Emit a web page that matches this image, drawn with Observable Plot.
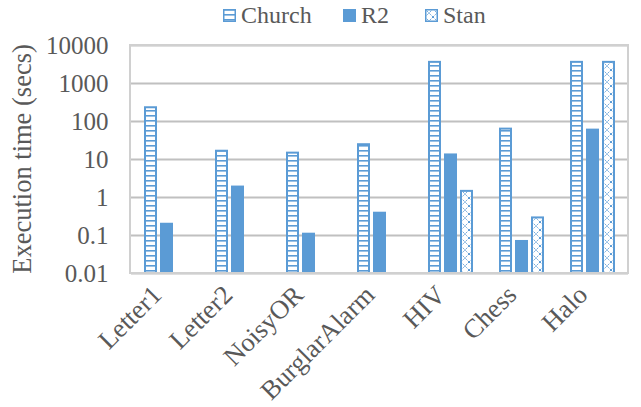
<!DOCTYPE html>
<html>
<head>
<meta charset="utf-8">
<script src="https://cdn.jsdelivr.net/npm/d3@7"></script>
<script src="https://cdn.jsdelivr.net/npm/@observablehq/plot@0.6"></script>
<style>
  html, body { margin: 0; padding: 0; background: white; }
  #wrap { position: relative; width: 641px; height: 407px; overflow: hidden; font-family: "Liberation Serif", serif; color: #595959; }
  #legend { position: relative; height: 30px; width: 641px; }
  .li { position: absolute; top: 0; font-size: 24px; line-height: 30px; }
  .sw { position: absolute; top: 9px; width: 13px; height: 13px; }
</style>
</head>
<body>
<svg width="0" height="0" style="position:absolute">
  <defs>
    <pattern id="pChurch" patternUnits="userSpaceOnUse" width="6" height="5">
      <rect width="6" height="5" fill="white"></rect>
      <rect y="0" width="6" height="1.6" fill="#5b9bd5"></rect>
    </pattern>
    <pattern id="pStan" patternUnits="userSpaceOnUse" width="8" height="8">
      <rect width="8" height="8" fill="white"></rect>
      <path d="M0,0L8,8M8,0L0,8" stroke="#5b9bd5" stroke-width="1" stroke-dasharray="1.5,1"></path>
    </pattern>
  </defs>
</svg>
<div id="wrap">
  <div id="legend"></div>
  <div id="chart"></div>
</div>
<script>
const categories = ["Letter1", "Letter2", "NoisyOR", "BurglarAlarm", "HIV", "Chess", "Halo"];
const series = ["Church", "R2", "Stan"];
const churchValues = [230, 16.5, 14.7, 24.5, 3600, 63, 3600];
const r2Values = [0.21, 2.0, 0.115, 0.41, 14, 0.074, 63];
const stanValues = [null, null, null, null, 1.45, 0.29, 3600];
const yTicks = [0.01, 0.1, 1, 10, 100, 1000, 10000];
const yTitle = "Execution time (secs)";

const blue = "#5b9bd5";
const seriesFill = {Church: "url(#pChurch)", R2: blue, Stan: "url(#pStan)"};
const seriesStroke = {Church: blue, R2: blue, Stan: blue};
const seriesStrokeWidth = {Church: 2, R2: 0, Stan: 2};

const rows = [];
categories.forEach((c, i) => {
  [[series[0], churchValues[i]], [series[1], r2Values[i]], [series[2], stanValues[i]]].forEach(([s, v]) => {
    if (v != null) rows.push({cat: c, series: s, value: v});
  });
});

// legend
const legendPos = {Church: 223, R2: 343, Stan: 425};
const legend = document.getElementById("legend");
series.forEach(s => {
  const sw = document.createElementNS("http://www.w3.org/2000/svg", "svg");
  sw.setAttribute("class", "sw");
  sw.setAttribute("width", 13); sw.setAttribute("height", 13);
  sw.style.left = legendPos[s] + "px";
  sw.innerHTML = `<rect x="0.75" y="0.75" width="11.5" height="11.5" fill="${seriesFill[s]}" stroke="${blue}" stroke-width="1.5"></rect>`;
  legend.appendChild(sw);
  const t = document.createElement("span");
  t.className = "li";
  t.style.left = (legendPos[s] + 18) + "px";
  t.textContent = s;
  legend.appendChild(t);
});

const barMark = s => Plot.barY(rows, {
  filter: d => d.series === s,
  x: "series", y1: 0.01, y2: "value",
  fill: seriesFill[s], stroke: seriesStroke[s], strokeWidth: seriesStrokeWidth[s],
  insetLeft: seriesStrokeWidth[s] / 2, insetRight: seriesStrokeWidth[s] / 2
});

const plot = Plot.plot({
  width: 641, height: 377,
  marginTop: 15, marginBottom: 134, marginLeft: 130, marginRight: 13,
  style: {fontFamily: "Liberation Serif", fontSize: "25px", color: "#595959", background: "white"},
  facet: {data: rows, x: "cat"},
  fx: {domain: categories, padding: 0, axis: null},
  x: {domain: series, paddingInner: 0.2, paddingOuter: 0.75, axis: null},
  y: {type: "log", domain: [0.01, 10000], ticks: yTicks, tickFormat: d => String(d),
      tickSize: 0, tickPadding: 23, label: null},
  marks: [
    Plot.ruleY(yTicks, {stroke: "#c0c0c0", strokeWidth: 2}),
    barMark("Church"),
    barMark("R2"),
    barMark("Stan"),
    Plot.text(rows, Plot.selectFirst({text: "cat", frameAnchor: "bottom", dy: 23, dx: -4, rotate: -45,
      textAnchor: "end", fill: "#595959", fontSize: 26.5}))
  ]
});

const fx = plot.scale("fx");
const y = plot.scale("y");
const xr = fx.range, yr = y.range;
const svg = d3.select(plot);
svg.append("rect")
  .attr("x", Math.min(...xr)).attr("y", Math.min(...yr))
  .attr("width", Math.abs(xr[1] - xr[0])).attr("height", Math.abs(yr[1] - yr[0]))
  .attr("fill", "none").attr("stroke", "#d0d0d0").attr("stroke-width", 2);
svg.append("text")
  .attr("transform", `translate(31,${(yr[0] + yr[1]) / 2}) rotate(-90)`)
  .attr("text-anchor", "middle")
  .attr("fill", "#595959")
  .attr("font-size", 26.5)
  .text(yTitle);

document.getElementById("chart").appendChild(plot);
</script>
</body>
</html>
